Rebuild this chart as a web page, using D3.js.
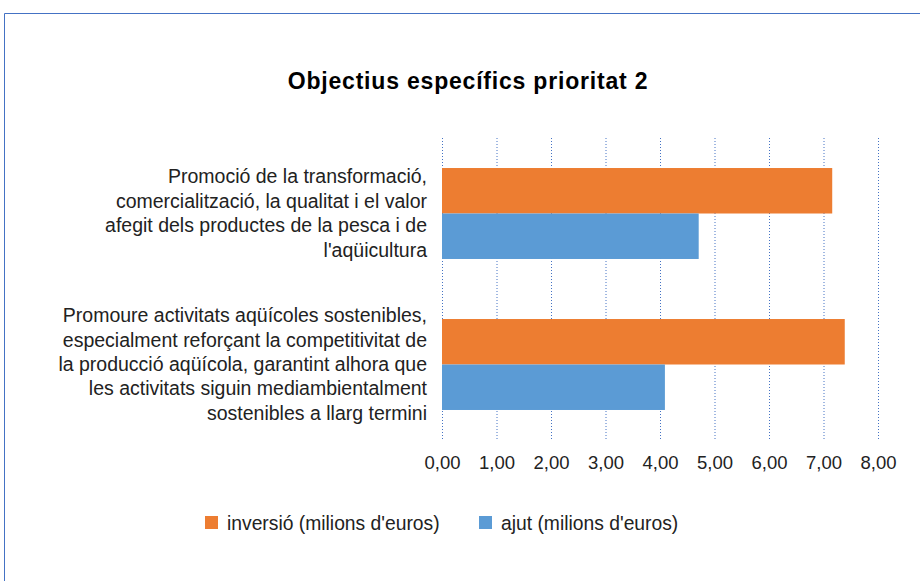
<!DOCTYPE html>
<meta charset="utf-8">
<style>
body { margin: 0; background: #fff; font-family: "Liberation Sans", Arial, sans-serif; }
.grid line { stroke: #4472c4; stroke-width: 1; stroke-dasharray: 1,2; }
.axis text { font-size: 18.5px; fill: #222; }
</style>
<body>
<script src="https://d3js.org/d3.v7.min.js"></script>
<script>

var width = 920, height = 581;

// data
var categories = [
  ["Promoció de la transformació,", "comercialització, la qualitat i el valor", "afegit dels productes de la pesca i de", "l'aqüicultura"],
  ["Promoure activitats aqüícoles sostenibles,", "especialment reforçant la competitivitat de", "la producció aqüícola, garantint alhora que", "les activitats siguin mediambientalment", "sostenibles a llarg termini"]
];
var inversio = [7.16, 7.39];
var ajut = [4.71, 4.09];
var seriesNames = ["inversió (milions d'euros)", "ajut (milions d'euros)"];
var seriesColors = ["#ed7d31", "#5b9bd5"];
var xTicks = [0, 1, 2, 3, 4, 5, 6, 7, 8];

var margin = {top: 138, left: 442, right: 42, bottom: 141};

var svg = d3.select("body").append("svg")
    .attr("width", width)
    .attr("height", height);

// frame
svg.append("path")
    .attr("d", "M4.5," + height + "V13.5H" + width)
    .attr("fill", "none")
    .attr("stroke", "#4472c4")
    .attr("stroke-width", 1);

svg.append("text")
    .attr("x", 468)
    .attr("y", 89)
    .attr("text-anchor", "middle")
    .style("font-weight", "bold")
    .style("font-size", "23px")
    .style("letter-spacing", "0.8px")
    .attr("fill", "#000")
    .text("Objectius específics prioritat 2");

var x = d3.scaleLinear().domain([0, 8]).range([margin.left, width - margin.right]);
var y = d3.scaleBand().domain(d3.range(categories.length))
    .range([margin.top, height - margin.bottom]).paddingInner(0).paddingOuter(0);
var inner = d3.scaleBand().domain([0, 1]).range([0, y.bandwidth()]).paddingInner(0).paddingOuter(0.66);

// gridlines
svg.append("g").attr("class", "grid")
  .selectAll("line").data(xTicks).enter().append("line")
    .attr("x1", function(d) { return x(d) + 0.5; })
    .attr("x2", function(d) { return x(d) + 0.5; })
    .attr("y1", margin.top)
    .attr("y2", height - margin.bottom);

// bars
var rows = categories.map(function(c, i) { return [inversio[i], ajut[i]]; });
var g = svg.append("g").selectAll("g").data(rows).enter().append("g")
    .attr("transform", function(d, i) { return "translate(0," + y(i) + ")"; });
g.selectAll("rect").data(function(d) { return d; }).enter().append("rect")
    .attr("x", x(0))
    .attr("y", function(d, j) { return inner(j); })
    .attr("width", function(d) { return x(d) - x(0); })
    .attr("height", inner.bandwidth())
    .attr("fill", function(d, j) { return seriesColors[j]; });

// category labels
var lh = 24.4;
categories.forEach(function(lines, i) {
  var cy = y(i) + y.bandwidth() / 2;
  var t = svg.append("text")
      .attr("text-anchor", "end")
      .style("font-size", "19.5px")
      .attr("fill", "#222");
  lines.forEach(function(l, k) {
    t.append("tspan")
      .attr("x", 427)
      .attr("y", cy + (k - (lines.length - 1) / 2) * lh + 6.5)
      .text(l);
  });
});

// x axis labels
var axis = d3.axisBottom(x).tickValues(xTicks).tickSize(0).tickPadding(0)
    .tickFormat(function(d) { return d3.format(".2f")(d).replace(".", ","); });
var ax = svg.append("g").attr("class", "axis")
    .attr("transform", "translate(0," + (height - margin.bottom) + ")")
    .call(axis);
ax.select(".domain").remove();
ax.selectAll("text").attr("dy", null).attr("y", 29).style("font-family", "inherit");

// legend
var legX = [205, 479];
var leg = svg.append("g").selectAll("g").data(seriesNames).enter().append("g")
    .attr("transform", function(d, i) { return "translate(" + legX[i] + ",516)"; });
leg.append("rect").attr("width", 13).attr("height", 13)
    .attr("fill", function(d, i) { return seriesColors[i]; });
leg.append("text").attr("x", 22).attr("y", 13.5)
    .style("font-size", "19.3px").attr("fill", "#222")
    .text(function(d) { return d; });

</script>
</body>
